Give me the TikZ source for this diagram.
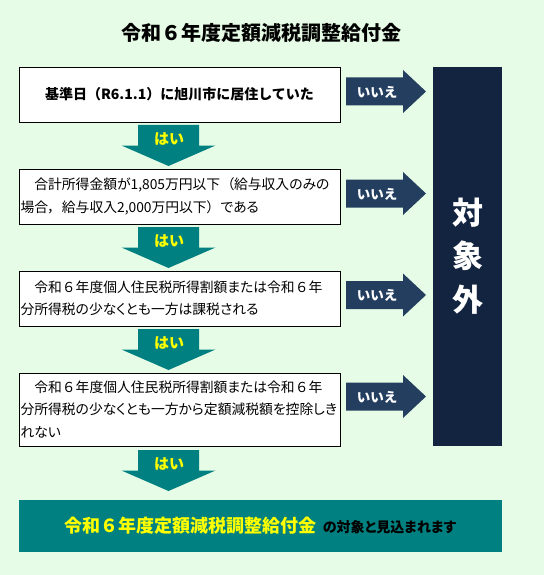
\documentclass[tikz,border=0pt]{standalone}
\usepackage{fontspec}
\setmainfont{Noto Sans CJK JP}
\newfontfamily\jpp{Noto Sans CJK JP}[RawFeature=+palt]
\newcommand\zw[1]{\makebox[1em]{#1}}
\newcommand\zwr[1]{\makebox[1em][r]{#1}}
\newcommand\zwl[1]{\makebox[1em][l]{#1}}
\definecolor{bgc}{RGB}{230,252,230}
\definecolor{navyc}{RGB}{18,36,63}
\definecolor{slatec}{RGB}{36,62,96}
\definecolor{tealc}{RGB}{0,128,128}
\definecolor{yelc}{RGB}{255,255,0}
\tikzset{
  qbox/.style={draw=black, line width=0.8pt, fill=white, minimum width=321pt, text width=318pt, inner xsep=1.5pt, align=left, font=\jpp\fontsize{13.8}{22.5}\selectfont},
  yeslabel/.style={text=yelc, font=\bfseries\fontsize{15}{15}\selectfont, inner sep=0pt},
  nolabel/.style={text=white, font=\bfseries\fontsize{13.5}{13.5}\selectfont, inner sep=0pt},
  pics/yesarrow/.style={code={
    \fill[tealc] (-30.5,0) -- (30.5,0) -- (30.5,20.5) -- (47,20.5) -- (0,41) -- (-47,20.5) -- (-30.5,20.5) -- cycle;}},
  pics/noarrow/.style={code={
    \fill[slatec] (0,-14) -- (57,-14) -- (57,-21.5) -- (80,0) -- (57,21.5) -- (57,14) -- (0,14) -- cycle;}},
}
\begin{document}
\begin{tikzpicture}[x=1pt,y=-1pt]
\useasboundingbox (0,0) rectangle (544,575);
\fill[bgc] (0,0) rectangle (544,575);

\node[font=\bfseries\fontsize{20}{20}\selectfont, inner sep=0pt] (title) at (261,33) {令和６年度定額減税調整給付金};

% question boxes
\node[draw=black, line width=0.8pt, fill=white, minimum width=321pt, minimum height=55pt, font=\bfseries\fontsize{14}{14}\selectfont] (b1) at (179.5,94.5) {基準日（R6.1.1）に旭川市に居住していた};
\node[qbox, minimum height=55pt] (b2) at (179.5,196.5) {　合計所得金額が1,805万円以下\zwr{（}給与収入のみの\\場合\zwl{，}給与収入2,000万円以下\zwl{）}である};
\node[qbox, minimum height=55pt] (b3) at (179.5,298.5) {　令和\zw{６}年度個人住民税所得割額または令和\zw{６}年\\分所得税の少なくとも一方は課税される};
\node[qbox, minimum height=73pt] (b4) at (179.5,409.5) {　令和\zw{６}年度個人住民税所得割額または令和\zw{６}年\\分所得税の少なくとも一方から定額減税額を控除しき\\れない};

% excluded block
\fill[navyc] (433,67) rectangle (502,446);
\node[text=white, font=\bfseries\fontsize{31}{31}\selectfont, inner sep=0pt] (t1) at (467.5,213) {対};
\node[text=white, font=\bfseries\fontsize{31}{31}\selectfont, inner sep=0pt] (t2) at (467.5,256) {象};
\node[text=white, font=\bfseries\fontsize{31}{31}\selectfont, inner sep=0pt] (t3) at (467.5,300) {外};

% no arrows
\pic (n1) at (346,91.5) {noarrow};
\pic (n2) at (346,193.5) {noarrow};
\pic (n3) at (346,295) {noarrow};
\pic (n4) at (346,396.5) {noarrow};
\node[nolabel] (nl1) at (377,92) {いいえ};
\node[nolabel] (nl2) at (377,194) {いいえ};
\node[nolabel] (nl3) at (377,295.5) {いいえ};
\node[nolabel] (nl4) at (377,397) {いいえ};

% yes arrows
\pic (y1) at (168.5,125) {yesarrow};
\pic (y2) at (168.5,227) {yesarrow};
\pic (y3) at (168.5,329) {yesarrow};
\pic (y4) at (168.5,450) {yesarrow};
\node[yeslabel] (yl1) at (169,139) {はい};
\node[yeslabel] (yl2) at (169,241) {はい};
\node[yeslabel] (yl3) at (169,343) {はい};
\node[yeslabel] (yl4) at (169,464) {はい};

% result
\node[fill=tealc, minimum width=483pt, minimum height=52pt, inner sep=0pt] (res) at (260.5,526) {{\color{yelc}\bfseries\fontsize{18}{18}\selectfont 令和６年度定額減税調整給付金}\hspace{6pt}{\bfseries\jpp\fontsize{14}{14}\selectfont の対象と見込まれます}};
\end{tikzpicture}
\end{document}
